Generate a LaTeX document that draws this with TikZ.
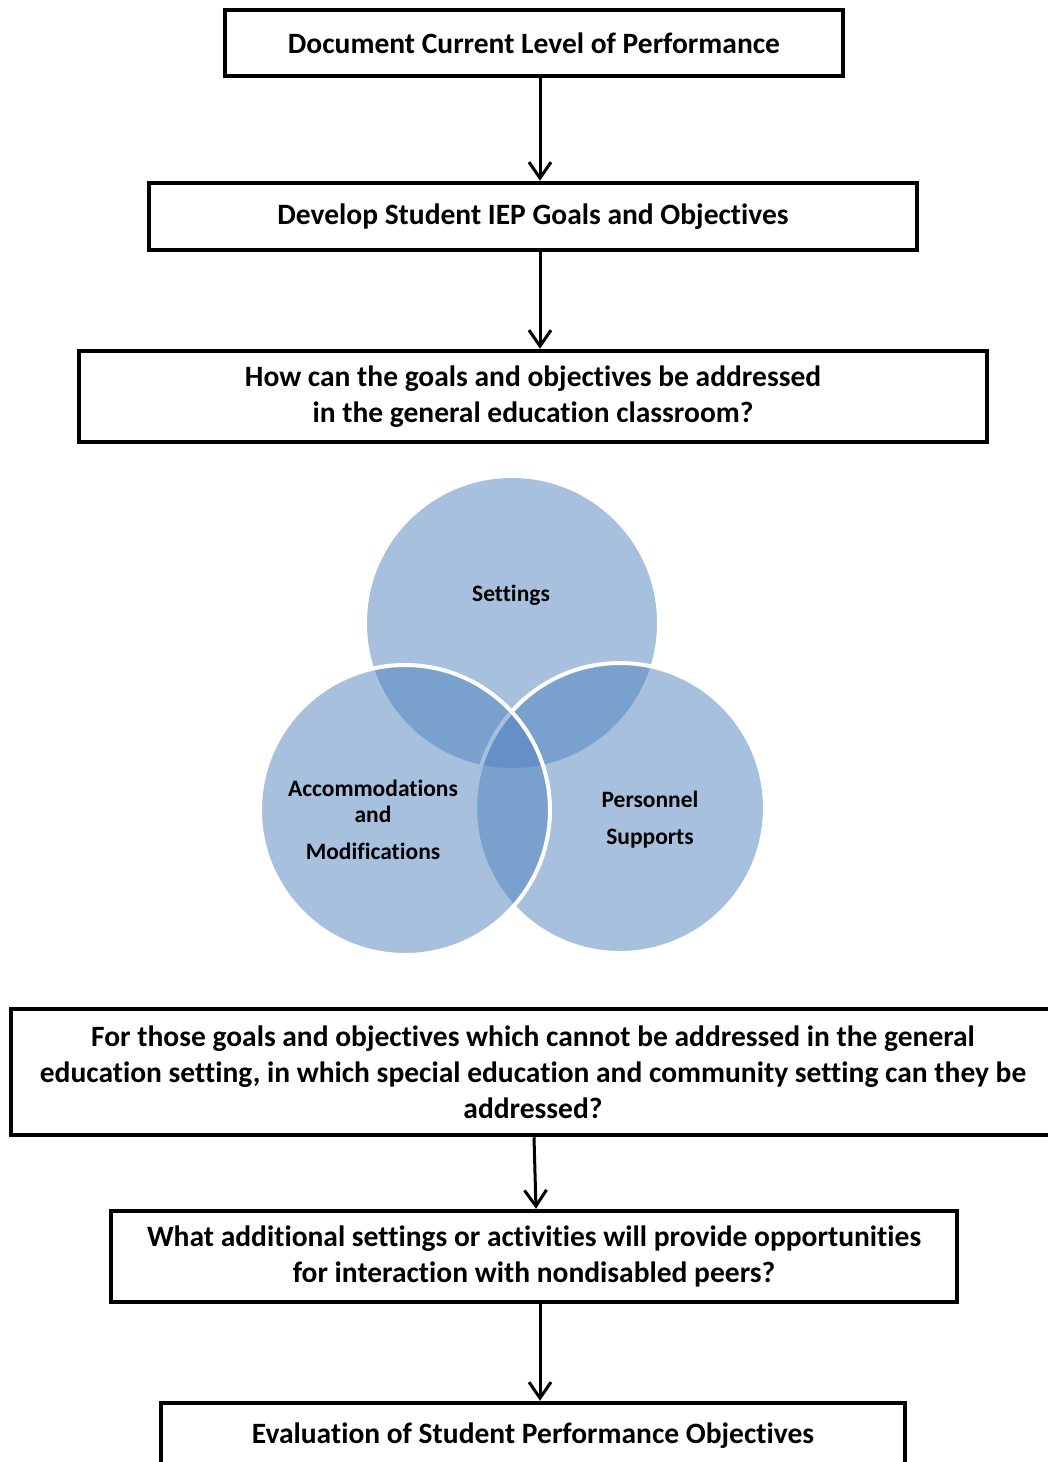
\documentclass[tikz,border=0pt]{standalone}
\usepackage{fontspec}
\setmainfont{Carlito}[Ligatures=NoCommon]
\usetikzlibrary{arrows.meta}
\definecolor{venncol}{HTML}{4F81BD}

\begin{document}
\begin{tikzpicture}[x=1pt,y=-1pt]
	\useasboundingbox (0,0) rectangle (1047,1462);

	\begin{scope}[every node/.style={draw,line width=4.5pt,inner sep=0pt,align=center,font=\fontsize{29.5}{36}\selectfont\bfseries}]
		\node[minimum width=618pt,minimum height=66pt] (doc) at (534,43) {Document Current Level of Performance};
		\node[minimum width=768pt,minimum height=67pt] (goals) at (533,216.5) {Develop Student IEP Goals and Objectives};
		\node[minimum width=908pt,minimum height=91pt] (howcan) at (533,396.5) {How can the goals and objectives be addressed\\in the general education classroom?};
		\node[minimum width=1044pt,minimum height=126pt] (special) at (533,1072) {For those goals and objectives which cannot be addressed in the general\\education setting, in which special education and community setting can they be\\addressed?};
		\node[minimum width=846pt,minimum height=91pt] (peers) at (534,1256.5) {What additional settings or activities will provide opportunities\\for interaction with nondisabled peers?};
		\node[minimum width=744pt,minimum height=66pt] (eval) at (533,1436) {Evaluation of Student Performance Objectives};
	\end{scope}

	\begin{scope}[every node/.style={circle,inner sep=0pt,minimum size=290pt,fill=venncol,fill opacity=0.5}]
		\node (settings) at (512,623) {};
		\node[draw=white,draw opacity=1,line width=4pt] (personnel) at (620,808) {};
		\node[draw=white,draw opacity=1,line width=4pt] (accom) at (405,810) {};
	\end{scope}

	\begin{scope}[every node/.style={align=center,font=\fontsize{23.5}{26}\selectfont\bfseries}]
		\node (settingstxt) at (511,595) {Settings};
		\node (accomtxt) at (373,820) {Accommodations\\and\\[11pt]Modifications};
		\node (personneltxt) at (650,820) {Personnel\\[11pt]Supports};
	\end{scope}

	\begin{scope}[every edge/.style={draw=black,line width=3pt,-{Straight Barb[length=16pt,width=22pt]}}]
		\path ([xshift=6pt]doc.south) edge ([xshift=7pt]goals.north);
		\path ([xshift=7pt]goals.south) edge ([xshift=7pt]howcan.north);
		\path ([xshift=1pt]special.south) edge ([xshift=2pt]peers.north);
		\path ([xshift=6pt]peers.south) edge ([xshift=7pt]eval.north);
	\end{scope}
\end{tikzpicture}
\end{document}
